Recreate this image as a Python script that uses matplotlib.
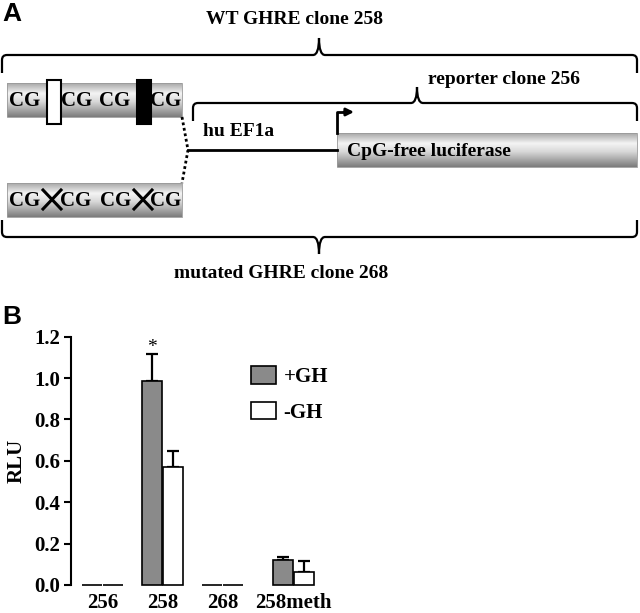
import numpy as np
import matplotlib
matplotlib.use("Agg")
import matplotlib.pyplot as plt
from matplotlib.path import Path
from matplotlib.patches import PathPatch, Rectangle
from matplotlib.colors import LinearSegmentedColormap

# panel B data
groups = ['256', '258', '268', '258meth']
gh_plus = [0.0, 0.985, 0.0, 0.12]
gh_plus_err = [0.0, 0.13, 0.0, 0.017]
gh_minus = [0.0, 0.57, 0.0, 0.065]
gh_minus_err = [0.0, 0.08, 0.0, 0.053]
series_labels = ['+GH', '-GH']
yticks = [0.0, 0.2, 0.4, 0.6, 0.8, 1.0, 1.2]

# panel A labels
wt_label = 'WT GHRE clone 258'
reporter_label = 'reporter clone 256'
mut_label = 'mutated GHRE clone 268'
promoter_label = 'hu EF1a'
gene_label = 'CpG-free luciferase'

SERIF = 'Liberation Serif'
SANS = 'Liberation Sans'
W, H = 640, 613

fig = plt.figure(figsize=(W / 100, H / 100), dpi=100)

# ---------- panel A : schematic drawn in pixel coords ----------
ax = fig.add_axes([0, 0, 1, 1])
ax.axis('off')

cyl = LinearSegmentedColormap.from_list(
    'cyl', [(0, '#a8a8a8'), (0.3, '#f4f4f4'), (0.55, '#d8d8d8'), (1, '#7c7c7c')])
grad = np.linspace(0, 1, 64).reshape(-1, 1)


def cylinder(x0, x1, y0, y1):
    ax.imshow(grad, cmap=cyl, extent=(x0, x1, y1, y0), aspect='auto', zorder=1)
    ax.add_patch(Rectangle((x0, y0), x1 - x0, y1 - y0, fill=False,
                           edgecolor='#9a9a9a', lw=0.6, zorder=2))


def brace(x0, x1, xc, y_line, y_end, y_tip, r=5, cw=6):
    s = 1 if y_end > y_line else -1
    verts = [(x0, y_end), (x0, y_line + s * r), (x0, y_line), (x0 + r, y_line),
             (xc - cw, y_line), (xc, y_line), (xc, y_tip),
             (xc, y_line), (xc + cw, y_line),
             (x1 - r, y_line), (x1, y_line), (x1, y_line + s * r), (x1, y_end)]
    codes = [Path.MOVETO, Path.LINETO, Path.CURVE3, Path.CURVE3,
             Path.LINETO, Path.CURVE3, Path.CURVE3,
             Path.CURVE3, Path.CURVE3,
             Path.LINETO, Path.CURVE3, Path.CURVE3, Path.LINETO]
    ax.add_patch(PathPatch(Path(verts, codes), fill=False, lw=1.6,
                           edgecolor='black', capstyle='butt', zorder=3))


txt = dict(family=SERIF, fontweight='bold', fontsize=14, color='black')

ax.text(2, 14, 'A', family=SANS, fontweight='bold', fontsize=19, va='center', ha='left')
ax.text(295, 20, wt_label, ha='center', va='center', **txt)
brace(2, 637, 319, 55, 73, 38)

ax.text(428, 80, reporter_label, ha='left', va='center', **txt)
brace(193, 637, 417, 103, 121, 87)

# GHRE element with boxes
cylinder(7, 182, 83, 117)
for xc in [25, 77, 115, 166]:
    ax.text(xc, 101, 'CG', ha='center', va='center', zorder=4,
            family=SERIF, fontweight='bold', fontsize=15)
ax.add_patch(Rectangle((47, 80), 14, 44, facecolor='white', edgecolor='black', lw=1.5, zorder=4))
ax.add_patch(Rectangle((137, 80), 14, 44, facecolor='black', edgecolor='black', lw=1.5, zorder=4))

# mutated element
cylinder(7, 182, 183, 217)
for xc in [25, 76, 116, 166]:
    ax.text(xc, 201, 'CG', ha='center', va='center', zorder=4,
            family=SERIF, fontweight='bold', fontsize=15)
for xc in [52, 143]:
    ax.plot([xc - 9, xc + 9], [190, 209], color='black', lw=2.2, zorder=4)
    ax.plot([xc - 9, xc + 9], [209, 190], color='black', lw=2.2, zorder=4)

# dotted joins
ax.plot([182, 188, 182], [117, 150, 183], color='black', lw=2, ls=(0, (1, 1)), zorder=3)

# promoter line + arrow
ax.plot([188, 337], [150, 150], color='black', lw=2, zorder=3)
ax.text(203, 132, promoter_label, ha='left', va='center', **txt)
ax.plot([337, 337, 346], [133, 112, 112], color='black', lw=2, zorder=3)
ax.annotate('', xy=(354, 112), xytext=(344, 112),
            arrowprops=dict(arrowstyle='-|>', color='black', lw=2,
                            mutation_scale=11, shrinkA=0, shrinkB=0))

cylinder(337, 637, 133, 167)
ax.text(347, 152, gene_label, ha='left', va='center', zorder=4, **txt)

brace(2, 637, 319, 237, 220, 254)
ax.text(281, 273, mut_label, ha='center', va='center', **txt)

ax.text(2, 317, 'B', family=SANS, fontweight='bold', fontsize=19, va='center', ha='left')
ax.set_xlim(0, W)
ax.set_ylim(H, 0)

# ---------- panel B : bar chart ----------
px0, py0, py1, pw = 71, 585, 336.7, 270
bx = fig.add_axes([px0 / W, (H - py0) / H, pw / W, (py0 - py1) / H])
unit = 60.0
pos = np.array([0, 1, 2, 3.18])
bw = 0.34
off = 0.175
bx.set_xlim(-(102.5 - px0) / unit, -(102.5 - px0) / unit + pw / unit)
bx.set_ylim(0, 1.2)

b1 = bx.bar(pos - off, gh_plus, bw, color='#8a8a8a', edgecolor='black', lw=1.2,
            clip_on=False, label=series_labels[0], zorder=3)
b2 = bx.bar(pos + off, gh_minus, bw, color='white', edgecolor='black', lw=1.2,
            clip_on=False, label=series_labels[1], zorder=3)

for p, v, e in [(pos - off, gh_plus, gh_plus_err), (pos + off, gh_minus, gh_minus_err)]:
    v = np.array(v)
    e = np.array(e)
    m = e > 0
    bx.errorbar(p[m], v[m], yerr=[np.zeros(m.sum()), e[m]], fmt='none',
                ecolor='black', elinewidth=1.6, capsize=4, capthick=1.6, zorder=2)

bx.text(pos[1] - off, gh_plus[1] + gh_plus_err[1] + 0.035, '*', ha='center', va='center',
        family=SERIF, fontsize=14)

for s in ['top', 'right', 'bottom']:
    bx.spines[s].set_visible(False)
bx.spines['left'].set_linewidth(1.5)
bx.set_yticks(yticks)
bx.set_yticklabels(['%.1f' % t for t in yticks], family=SERIF, fontweight='bold', fontsize=15)
bx.tick_params(axis='y', direction='out', length=5, width=1.5, pad=3)
bx.set_xticks(pos)
bx.set_xticklabels(groups, family=SERIF, fontweight='bold', fontsize=15)
bx.tick_params(axis='x', length=0, pad=6)
bx.set_ylabel('RLU', family=SERIF, fontweight='bold', fontsize=15, labelpad=5)
bx.patch.set_visible(False)

leg = bx.legend(handles=[b1, b2], loc='upper left', bbox_to_anchor=(241 / W, 1 - 356 / H),
                bbox_transform=fig.transFigure, frameon=False, borderpad=0,
                handlelength=1.2, handleheight=0.9, handletextpad=0.35, labelspacing=0.7,
                prop=dict(family=SERIF, weight='bold', size=15))

fig.savefig('out.png', dpi=100)
